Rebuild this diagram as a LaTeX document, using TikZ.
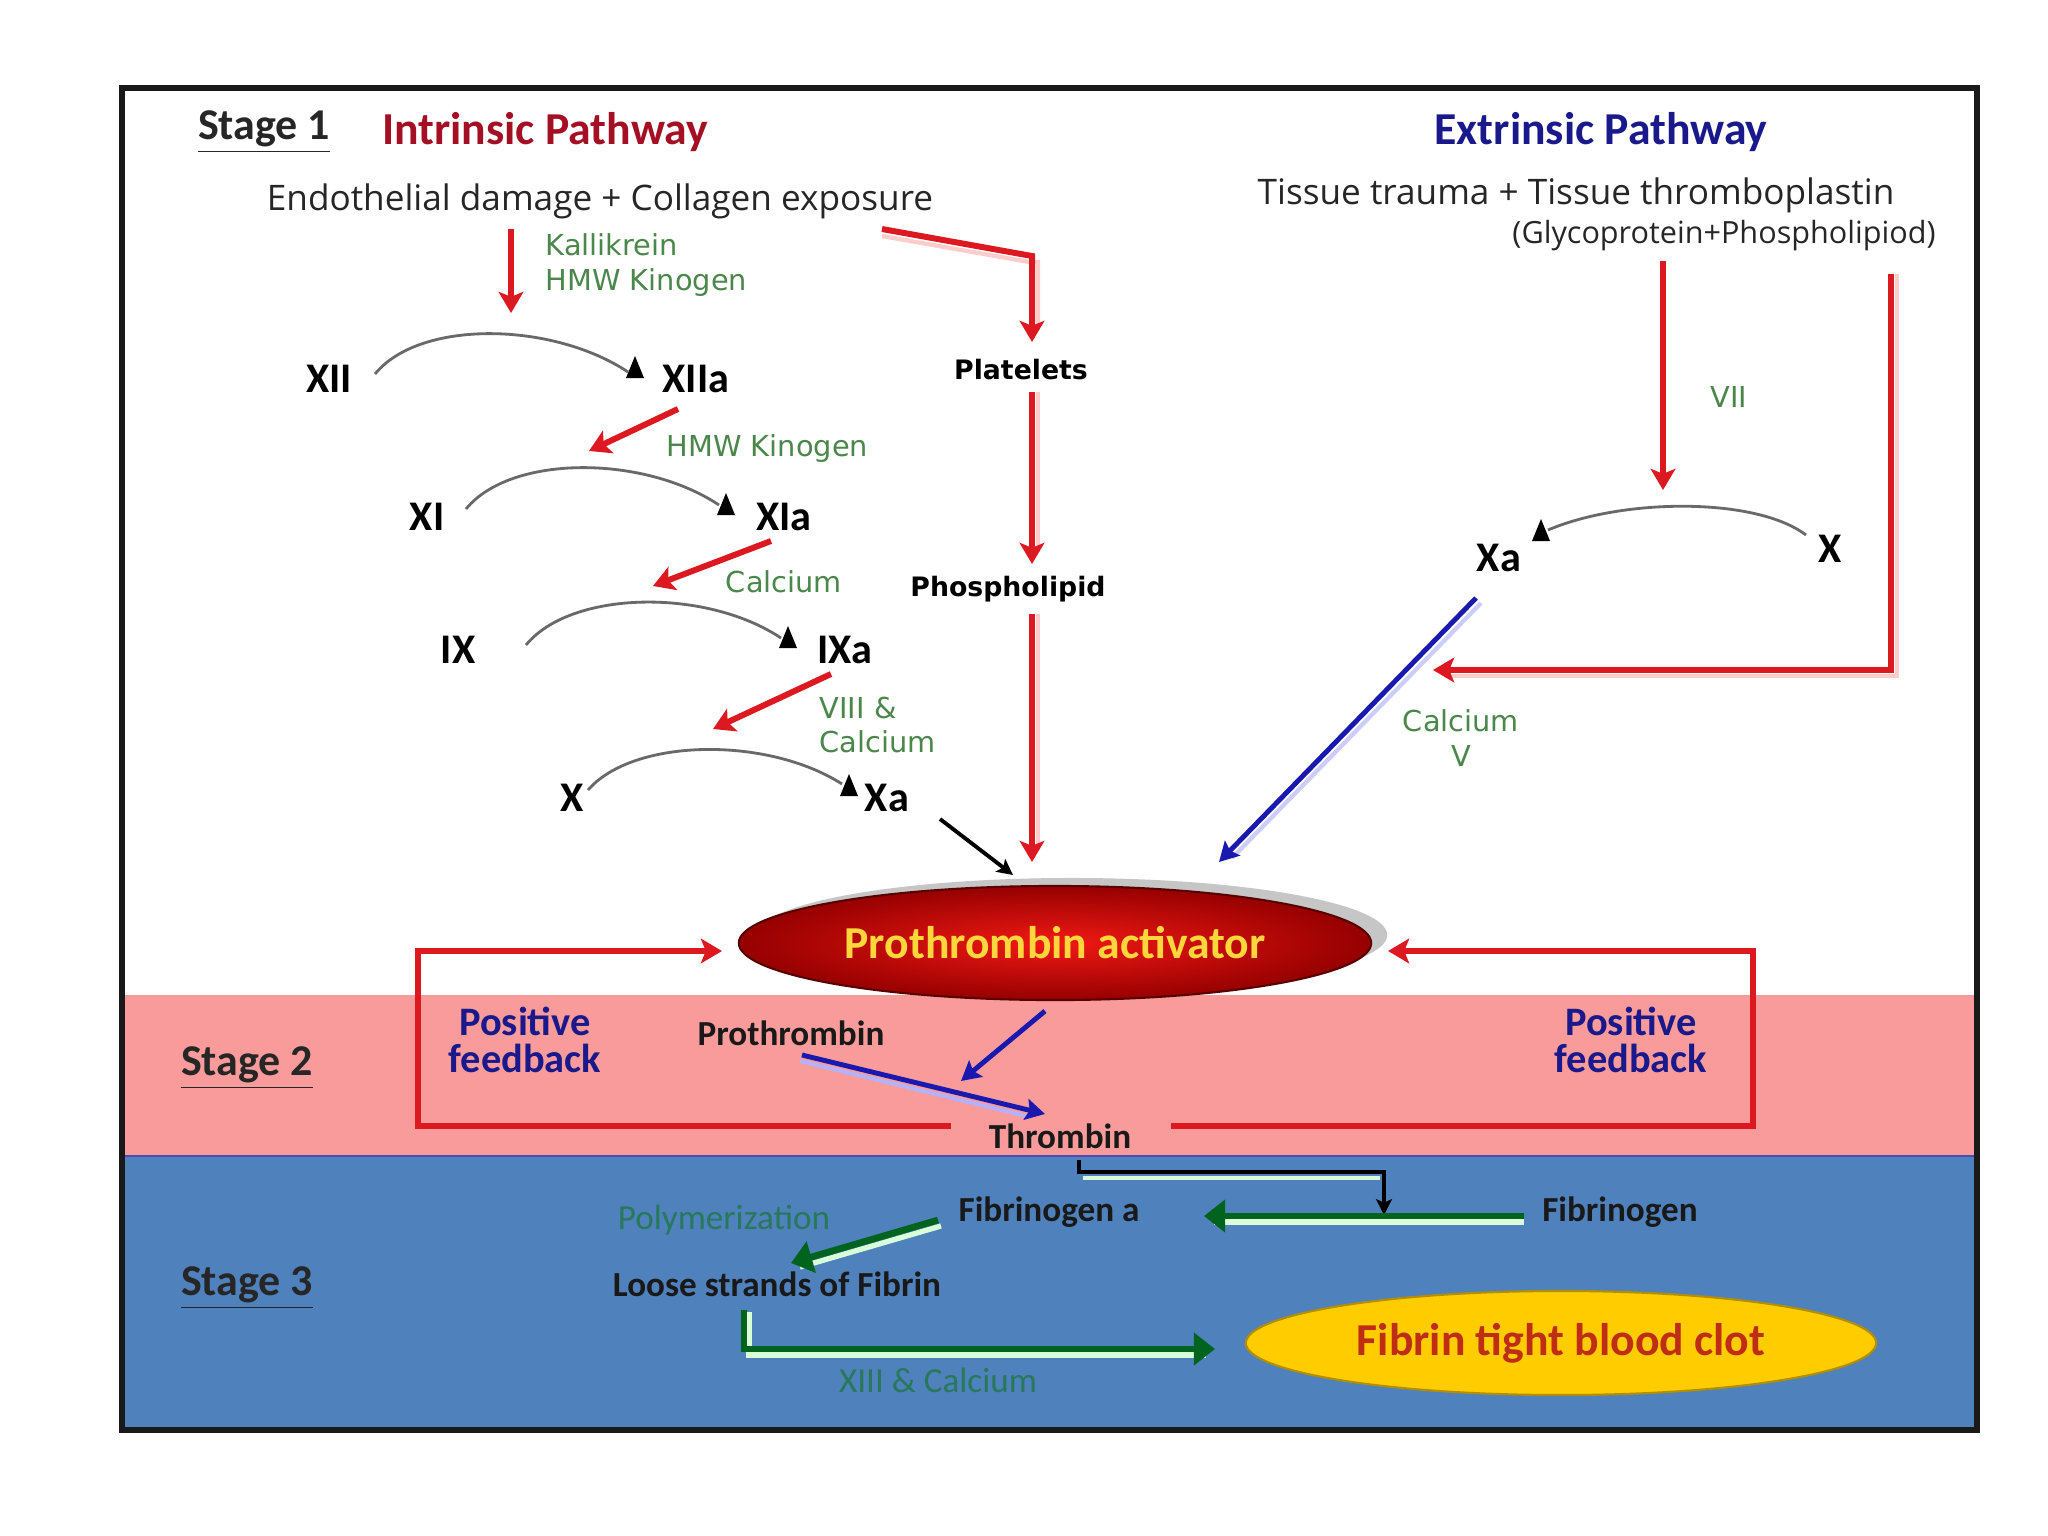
\documentclass[tikz,border=0pt]{standalone}
\usepackage{fontspec}
\setmainfont{Carlito}
\newfontfamily\dvf{DejaVu Sans}
\newfontfamily\osf{Open Sans}
\usetikzlibrary{arrows.meta,shapes.geometric}
\definecolor{fbred}{RGB}{220,25,32}
\definecolor{dred}{RGB}{165,15,35}
\definecolor{navyt}{RGB}{25,25,140}
\definecolor{glab}{RGB}{75,135,75}
\definecolor{pinkb}{RGB}{250,155,155}
\definecolor{blueb}{RGB}{79,129,189}
\definecolor{dgreen}{RGB}{0,100,30}
\definecolor{tealg}{RGB}{40,120,90}
\definecolor{arcg}{RGB}{105,105,105}
\definecolor{bluea}{RGB}{25,25,175}
\definecolor{gold}{RGB}{255,204,0}
\definecolor{clotred}{RGB}{190,45,20}
\definecolor{yelt}{RGB}{255,215,60}
\tikzset{
  stagelbl/.style={font=\bfseries\fontsize{12.5}{14}\selectfont, text=black!85},
  titlelbl/.style={font=\bfseries\fontsize{13}{15}\selectfont},
  fac/.style={font=\bfseries\fontsize{12}{14}\selectfont},
  glabel/.style={font=\dvf\fontsize{8.2}{9.8}\selectfont, text=glab, align=left},
  vbold/.style={font=\dvf\bfseries\fontsize{7.6}{9}\selectfont},
  cause/.style={font=\osf\fontsize{10}{12}\selectfont, text=black!85},
  blbl/.style={font=\bfseries\fontsize{10}{12}\selectfont, text=black!90},
  pfb/.style={font=\bfseries\fontsize{11.5}{10.5}\selectfont, text=navyt, align=center},
  redarr/.style={draw=fbred, line width=1.7pt, -{Stealth[length=6pt,width=7pt,inset=1.4pt]}},
  fbarr/.style={draw=fbred, line width=1.8pt, -{Stealth[length=6pt,width=7pt,inset=1.4pt]}},
  rshade/.style={draw=red!20, line width=1.2pt},
  bluearr/.style={draw=bluea, line width=1.4pt, -{Stealth[length=5.5pt,width=6pt,inset=1pt]}},
  blkarr/.style={draw=black, line width=1.1pt, -{Stealth[length=4.5pt,width=4.5pt,inset=1pt]}},
  grnarr/.style={draw=dgreen, line width=1.9pt, -{Triangle[length=6pt,width=9pt]}},
  hilite/.style={draw=white!85!green, line width=1.5pt},
  arcline/.style={draw=arcg, line width=0.8pt},
  every node/.style={inner sep=0pt}
}
\begin{document}
\begin{tikzpicture}[x=0.01cm,y=-0.01cm]
\useasboundingbox (0,0) rectangle (2048,1536);
\fill[white] (0,0) rectangle (2048,1536);
% bands
\fill[pinkb] (122,995) rectangle (1977,1156);
\fill[blueb] (122,1156) rectangle (1977,1430);
\draw[gray!60!blue, line width=0.6pt] (122,1156) -- (1977,1156);

% ---- Stage 1 texts
\node[stagelbl] (s1) at (264,132) {\underline{Stage 1}};
\node[titlelbl, text=dred] (intr) at (545,132) {Intrinsic Pathway};
\node[titlelbl, text=navyt] (extr) at (1601,132) {Extrinsic Pathway};
\node[cause] (endo) at (600,201) {Endothelial damage + Collagen exposure};
\node[cause] (tiss) at (1576,195) {Tissue trauma + Tissue thromboplastin};
\node[font=\osf\fontsize{8.7}{10}\selectfont, text=black!85] (glyc) at (1724,236) {(Glycoprotein+Phospholipiod)};
\node[glabel, anchor=west] (kal) at (545,265) {Kallikrein\\HMW Kinogen};
\node[fac] (xii) at (329,379) {XII};
\node[fac] (xiia) at (696,379) {XIIa};
\node[glabel, anchor=west] (hmw) at (666,449) {HMW Kinogen};
\node[fac] (xi) at (427,517) {XI};
\node[fac] (xia) at (784,517) {XIa};
\node[glabel] (ca1) at (784,582) {Calcium};
\node[fac] (ix) at (458,650) {IX};
\node[fac] (ixa) at (845,650) {IXa};
\node[glabel, anchor=west] (viii) at (819,725) {VIII \&\\Calcium};
\node[fac] (xin) at (572,798) {X};
\node[fac] (xain) at (887,798) {Xa};
\node[vbold] (plt) at (1021,370) {Platelets};
\node[vbold] (phos) at (1008,589) {Phospholipid};
\node[glabel] (vii) at (1729,397) {VII};
\node[fac] (xaex) at (1499,558) {Xa};
\node[fac] (xex) at (1830,549) {X};
\node[glabel, align=center] (ca2) at (1461,738) {Calcium\\V};

% ---- arcs with triangle markers
\coordinate (a1s) at (375,374); \coordinate (a1e) at (628,372);
\coordinate (a2s) at (466,509); \coordinate (a2e) at (719,505);
\coordinate (a3s) at (526,645); \coordinate (a3e) at (781,638);
\coordinate (a4s) at (588,790); \coordinate (a4e) at (842,784);
\coordinate (a5s) at (1806,535); \coordinate (a5e) at (1548,530);
\draw[arcline] (a1s) .. controls +(45,-55) and +(-75,-50) .. (a1e);
\draw[arcline] (a2s) .. controls +(45,-55) and +(-75,-50) .. (a2e);
\draw[arcline] (a3s) .. controls +(45,-55) and +(-75,-50) .. (a3e);
\draw[arcline] (a4s) .. controls +(45,-52) and +(-75,-48) .. (a4e);
\draw[arcline] (a5s) .. controls +(-50,-38) and +(75,-32) .. (a5e);
\foreach \tx/\ty in {635/378, 726/515, 788/648, 849/796, 1541/541}{
  \fill[black] (\tx-9,\ty) -- (\tx+9,\ty) -- (\tx,\ty-22) -- cycle;
}

% ---- red arrows, stage 1
\coordinate (r1a) at (511,229); \coordinate (r1b) at (511,313);
\draw[redarr] (r1a) -- (r1b);
\coordinate (r2a) at (678,409); \coordinate (r2b) at (589,451);
\draw[redarr] (r2a) -- (r2b);
\coordinate (r3a) at (771,541); \coordinate (r3b) at (653,586);
\draw[redarr] (r3a) -- (r3b);
\coordinate (r4a) at (831,674); \coordinate (r4b) at (713,729);
\draw[redarr] (r4a) -- (r4b);
\coordinate (r5a) at (882,229); \coordinate (r5c) at (1032,256); \coordinate (r5b) at (1032,342);
\draw[rshade] (882,236) -- (1029,262) -- (1038,262) -- (1038,330);
\draw[redarr] (r5a) -- (r5c) -- (r5b);
\coordinate (r6a) at (1032,392); \coordinate (r6b) at (1032,564);
\draw[rshade] (1038,392) -- (1038,552);
\draw[redarr] (r6a) -- (r6b);
\coordinate (r7a) at (1032,614); \coordinate (r7b) at (1032,862);
\draw[rshade] (1038,614) -- (1038,850);
\draw[redarr] (r7a) -- (r7b);
\coordinate (r8a) at (1663,261); \coordinate (r8b) at (1663,490);
\draw[redarr] (r8a) -- (r8b);
\coordinate (r9a) at (1891,274); \coordinate (r9c) at (1891,670); \coordinate (r9b) at (1433,670);
\draw[rshade] (1897,274) -- (1897,676) -- (1445,676);
\draw[redarr] (r9a) -- (r9c) -- (r9b);

% black and blue arrows into activator
\coordinate (k1a) at (940,819); \coordinate (k1b) at (1013,875);
\draw[blkarr] (k1a) -- (k1b);
\coordinate (b1a) at (1476,598); \coordinate (b1b) at (1219,862);
\draw[draw=blue!20, line width=1.2pt] (1481,603) -- (1232,858);
\draw[bluearr] (b1a) -- (b1b);

% ---- Prothrombin activator
\fill[gray!45] (1072,935) ellipse [x radius=3.15cm, y radius=0.57cm];
\node[ellipse, draw=red!35!black, line width=0.6pt, inner color={rgb,255:red,240;green,25;blue,20},
  outer color={rgb,255:red,150;green,0;blue,0}, minimum width=6.32cm, minimum height=1.14cm,
  font=\bfseries\fontsize{13}{15}\selectfont, text=yelt] (pa) at (1055,943) {Prothrombin activator};

% ---- Stage 2
\node[stagelbl] (s2) at (247,1068) {\underline{Stage 2}};
\node[pfb] (pf1) at (525,1040) {Positive\\feedback};
\node[pfb] (pf2) at (1631,1040) {Positive\\feedback};
\node[blbl] (prot) at (791,1033) {Prothrombin};
\node[blbl] (thr) at (1060,1136) {Thrombin};

\coordinate (f1a) at (951,1126); \coordinate (f1c) at (418,1126); \coordinate (f1d) at (418,951); \coordinate (f1b) at (722,951);
\draw[fbarr] (f1a) -- (f1c) -- (f1d) -- (f1b);
\coordinate (f2a) at (1171,1126); \coordinate (f2c) at (1753,1126); \coordinate (f2d) at (1753,951); \coordinate (f2b) at (1388,951);
\draw[fbarr] (f2a) -- (f2c) -- (f2d) -- (f2b);

\coordinate (b2a) at (1045,1011); \coordinate (b2b) at (961,1081);
\draw[bluearr] (b2a) -- (b2b);
\coordinate (b3a) at (802,1055); \coordinate (b3b) at (1045,1114);
\draw[draw=white!70!blue, line width=1.1pt] (800,1061) -- (1030,1117);
\draw[bluearr] (b3a) -- (b3b);

% ---- Stage 3
\node[stagelbl] (s3) at (247,1288) {\underline{Stage 3}};
\node[font=\fontsize{10}{12}\selectfont, text=tealg] (poly) at (724,1220) {Polymerization};
\node[blbl] (fba) at (1049,1212) {Fibrinogen a};
\node[blbl] (fbg) at (1620,1212) {Fibrinogen};
\node[blbl] (loose) at (777,1284) {Loose strands of Fibrin};
\node[ellipse, fill=gold, draw=gold!70!black, line width=0.6pt, minimum width=6.3cm, minimum height=1.04cm,
  font=\bfseries\fontsize{13}{15}\selectfont, text=clotred] (clot) at (1561,1343) {Fibrin tight blood clot};
\node[font=\fontsize{10}{12}\selectfont, text=tealg] (x13) at (938,1380) {XIII \& Calcium};

% thrombin elbow
\coordinate (t1a) at (1079,1160); \coordinate (t1c) at (1079,1172); \coordinate (t1d) at (1384,1172); \coordinate (t1b) at (1384,1215);
\draw[hilite, line width=1.3pt] (1083,1178) -- (1380,1178);
\draw[blkarr] (t1a) -- (t1c) -- (t1d) -- (t1b);

% green arrows
\coordinate (g1a) at (1524,1216); \coordinate (g1b) at (1204,1216);
\draw[hilite] (1524,1222) -- (1214,1222);
\draw[grnarr] (g1a) -- (g1b);
\coordinate (g2a) at (938,1220); \coordinate (g2b) at (791,1263);
\draw[hilite] (941,1226) -- (800,1267);
\draw[grnarr] (g2a) -- (g2b);
\coordinate (g3a) at (744,1310); \coordinate (g3c) at (744,1349); \coordinate (g3b) at (1215,1349);
\draw[hilite] (749,1312) -- (749,1355) -- (1206,1355);
\draw[grnarr] (g3a) -- (g3c) -- (g3b);

% frame
\draw[black!90, line width=1.8pt] (122,88) rectangle (1977,1430);
\end{tikzpicture}
\end{document}
